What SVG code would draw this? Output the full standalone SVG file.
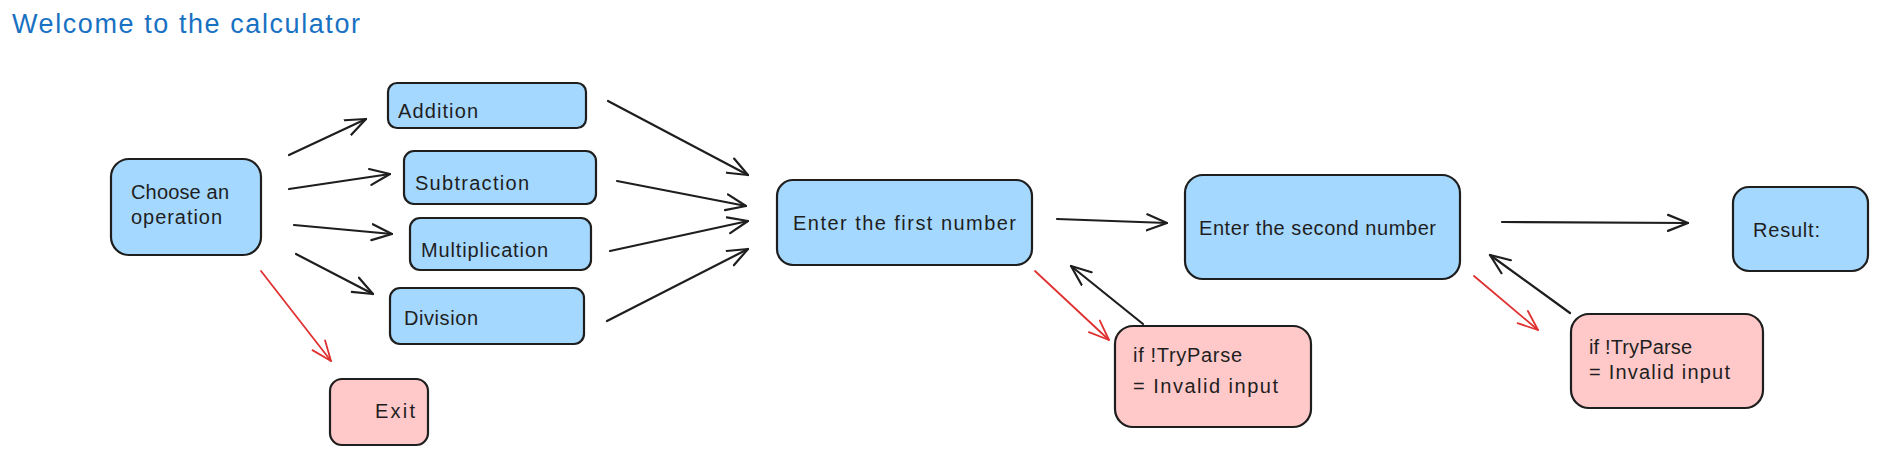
<svg xmlns="http://www.w3.org/2000/svg" width="1880" height="457" viewBox="0 0 1880 457">
<defs>
<style>
.box{stroke:#1e1e1e;stroke-width:2.2}
.blue{fill:#a5d8ff}
.pink{fill:#ffc9c9}
.t{font-family:"Liberation Sans",Arial,sans-serif;font-size:20px;fill:#1e1e1e;dominant-baseline:middle}
.c{fill:none;stroke:#1e1e1e;stroke-width:2.2;stroke-linecap:round}
.r{fill:none;stroke:#e03131;stroke-width:1.8;stroke-linecap:round}
</style>
<marker id="ab" viewBox="0 0 22 20" refX="21" refY="10" markerWidth="22" markerHeight="20" markerUnits="userSpaceOnUse" orient="auto">
<path d="M1,2 L21,10 L1,18" fill="none" stroke="#1e1e1e" stroke-width="2.2" stroke-linecap="round" stroke-linejoin="round"/>
</marker>
<marker id="ar" viewBox="0 0 22 20" refX="21" refY="10" markerWidth="22" markerHeight="20" markerUnits="userSpaceOnUse" orient="auto">
<path d="M1,2 L21,10 L1,18" fill="none" stroke="#e03131" stroke-width="1.8" stroke-linecap="round" stroke-linejoin="round"/>
</marker>
</defs>
<rect width="1880" height="457" fill="#ffffff"/>
<text x="12" y="26" font-family="Liberation Sans, Arial, sans-serif" font-size="27" fill="#1971c2" dominant-baseline="middle" textLength="348" lengthAdjust="spacing">Welcome to the calculator</text>

<g id="connectors">
<line class="c" x1="289" y1="155" x2="366" y2="119" marker-end="url(#ab)"/>
<line class="c" x1="289" y1="189" x2="390" y2="174" marker-end="url(#ab)"/>
<line class="c" x1="294" y1="225" x2="392" y2="234" marker-end="url(#ab)"/>
<line class="c" x1="296" y1="254" x2="373" y2="294" marker-end="url(#ab)"/>
<line class="r" x1="261" y1="271" x2="331" y2="361" marker-end="url(#ar)"/>
<line class="c" x1="608" y1="101" x2="748" y2="175" marker-end="url(#ab)"/>
<line class="c" x1="617" y1="181" x2="746" y2="206" marker-end="url(#ab)"/>
<line class="c" x1="610" y1="251" x2="748" y2="221" marker-end="url(#ab)"/>
<line class="c" x1="607" y1="321" x2="748" y2="249" marker-end="url(#ab)"/>
<line class="c" x1="1057" y1="219" x2="1167" y2="223" marker-end="url(#ab)"/>
<line class="r" x1="1035" y1="271" x2="1109" y2="340" marker-end="url(#ar)"/>
<line class="c" x1="1143" y1="324" x2="1071" y2="266" marker-end="url(#ab)"/>
<line class="c" x1="1502" y1="222" x2="1688" y2="223" marker-end="url(#ab)"/>
<line class="r" x1="1474" y1="276" x2="1538" y2="330" marker-end="url(#ar)"/>
<line class="c" x1="1570" y1="313" x2="1490" y2="255" marker-end="url(#ab)"/>
</g>

<g id="choose">
<rect class="box blue" x="111" y="159" width="150" height="96" rx="18"/>
<text class="t" x="131" y="194" textLength="98" lengthAdjust="spacing">Choose an</text>
<text class="t" x="131" y="219" textLength="91" lengthAdjust="spacing">operation</text>
</g>
<g id="addition">
<rect class="box blue" x="388" y="83" width="198" height="45" rx="9"/>
<text class="t" x="398" y="113" textLength="80" lengthAdjust="spacing">Addition</text>
</g>
<g id="subtraction">
<rect class="box blue" x="404" y="151" width="192" height="53" rx="10"/>
<text class="t" x="415" y="185" textLength="114" lengthAdjust="spacing">Subtraction</text>
</g>
<g id="multiplication">
<rect class="box blue" x="410" y="218" width="181" height="52" rx="10"/>
<text class="t" x="421" y="252" textLength="127" lengthAdjust="spacing">Multiplication</text>
</g>
<g id="division">
<rect class="box blue" x="390" y="288" width="194" height="56" rx="10"/>
<text class="t" x="404" y="320" textLength="74" lengthAdjust="spacing">Division</text>
</g>
<g id="exit">
<rect class="box pink" x="330" y="379" width="98" height="66" rx="12"/>
<text class="t" x="395" y="413" text-anchor="middle" textLength="40" lengthAdjust="spacing">Exit</text>
</g>
<g id="first">
<rect class="box blue" x="777" y="180" width="255" height="85" rx="16"/>
<text class="t" x="793" y="225" textLength="223" lengthAdjust="spacing">Enter the first number</text>
</g>
<g id="second">
<rect class="box blue" x="1185" y="175" width="275" height="104" rx="18"/>
<text class="t" x="1199" y="230" textLength="237" lengthAdjust="spacing">Enter the second number</text>
</g>
<g id="result">
<rect class="box blue" x="1733" y="187" width="135" height="84" rx="16"/>
<text class="t" x="1753" y="232" textLength="67" lengthAdjust="spacing">Result:</text>
</g>
<g id="invalid1">
<rect class="box pink" x="1115" y="326" width="196" height="101" rx="18"/>
<text class="t" x="1133" y="357" textLength="109" lengthAdjust="spacing">if !TryParse</text>
<text class="t" x="1133" y="388" textLength="145" lengthAdjust="spacing">= Invalid input</text>
</g>
<g id="invalid2">
<rect class="box pink" x="1571" y="314" width="192" height="94" rx="18"/>
<text class="t" x="1589" y="349" textLength="103" lengthAdjust="spacing">if !TryParse</text>
<text class="t" x="1589" y="374" textLength="141" lengthAdjust="spacing">= Invalid input</text>
</g>
</svg>
